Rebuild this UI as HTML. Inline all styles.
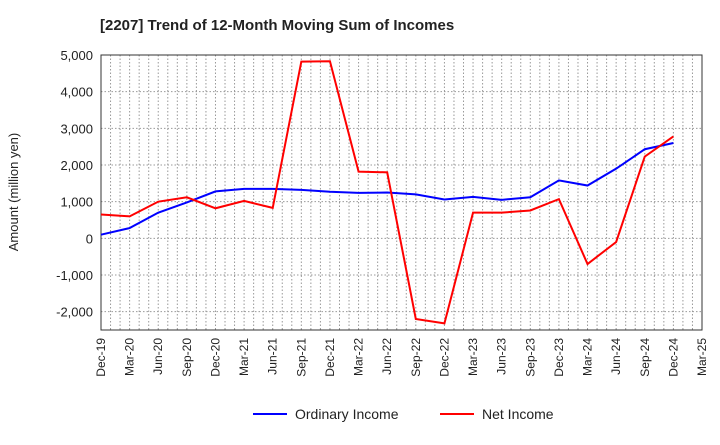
<!DOCTYPE html>
<html><head><meta charset="utf-8"><style>
body{margin:0;background:#fff;width:720px;height:440px;overflow:hidden}
svg text{font-family:"Liberation Sans",sans-serif;fill:#222}
</style></head><body>
<svg id="c" width="720" height="440">
<text x="100" y="30" font-size="15" font-weight="bold">[2207]  Trend of 12-Month Moving Sum of Incomes</text>
<text transform="translate(18,192) rotate(-90)" text-anchor="middle" font-size="13">Amount (million yen)</text>
<g id="grid"></g><g id="axes"></g><g id="series"></g>
<g>
<line x1="253" y1="414" x2="287" y2="414" stroke="#0000ff" stroke-width="2"/>
<text x="295" y="419" font-size="14">Ordinary Income</text>
<line x1="440" y1="414" x2="474" y2="414" stroke="#ff0000" stroke-width="2"/>
<text x="482" y="419" font-size="14">Net Income</text>
</g>
</svg>
<script>
const categories=["Dec-19","Mar-20","Jun-20","Sep-20","Dec-20","Mar-21","Jun-21","Sep-21","Dec-21","Mar-22","Jun-22","Sep-22","Dec-22","Mar-23","Jun-23","Sep-23","Dec-23","Mar-24","Jun-24","Sep-24","Dec-24","Mar-25"];
const ordinaryIncome=[100,280,700,980,1280,1350,1350,1320,1270,1240,1250,1200,1060,1130,1050,1120,1580,1440,1900,2430,2600];
const netIncome=[650,600,1000,1120,820,1020,830,4820,4830,1820,1800,-2200,-2320,700,700,760,1070,-700,-100,2230,2780];
const yTicks=[5000,4000,3000,2000,1000,0,-1000,-2000];
const L=101,R=702,T=55,B=330,yMin=-2500,yMax=5000;
const xs=i=>L+i*(R-L)/(categories.length-1);
const ys=v=>B-(v-yMin)*(B-T)/(yMax-yMin);
const NS="http://www.w3.org/2000/svg";
function mk(tag,attrs,parent){const e=document.createElementNS(NS,tag);for(const k in attrs)e.setAttribute(k,attrs[k]);parent.appendChild(e);return e;}
const g=document.getElementById('grid'),a=document.getElementById('axes'),s=document.getElementById('series');
for(let m=0;m<(categories.length-1)*3;m++){
  const x=xs(m/3);
  const l=mk('line',{x1:x,x2:x,y1:T,y2:B,stroke:'#999','stroke-dasharray':'1.5,2','stroke-width':1},g);
  
  
}
categories.forEach((c,i)=>{
  const x=xs(i);
  const t=mk('text',{transform:`translate(${x+4},${B+8}) rotate(-90)`,'text-anchor':'end','font-size':12},a);
  t.textContent=c;
  
  
});
yTicks.forEach(v=>{
  const y=ys(v);
  const l=mk('line',{x1:L,x2:R,y1:y,y2:y,stroke:'#999','stroke-dasharray':'1.5,2','stroke-width':1},g);
  
  
  const t=mk('text',{x:L-8,y:y+5,'text-anchor':'end','font-size':13},a);
  t.textContent=v.toLocaleString('en-US');
  
  
});
const fr=mk('rect',{x:L,y:T,width:R-L,height:B-T,fill:'none',stroke:'#333','stroke-width':1},a);


function line(data,color,name){
  const p=mk('polyline',{points:data.map((v,i)=>xs(i)+','+ys(v)).join(' '),fill:'none',stroke:color,'stroke-width':2},s);
  
  
}
line(ordinaryIncome,'#0000ff','ordinary-income-line');
line(netIncome,'#ff0000','net-income-line');
</script>
</body></html>
